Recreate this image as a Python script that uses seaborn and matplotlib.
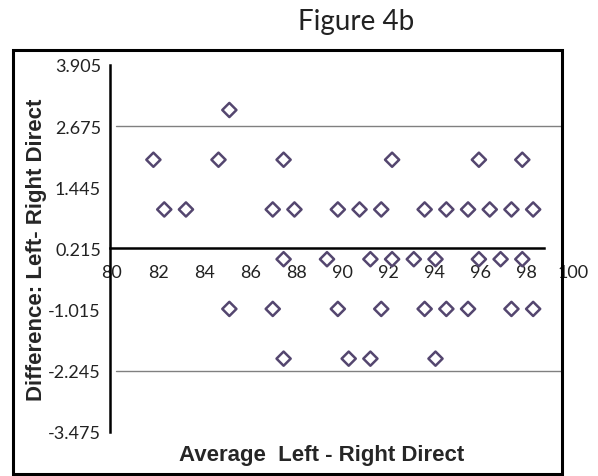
import matplotlib.pyplot as plt
import seaborn as sns
import pandas as pd
from matplotlib.patches import Rectangle
from matplotlib.transforms import ScaledTranslation

# Values (Bland-Altman style plot)
average = [85.5,
           82, 85, 88, 93, 97, 99,
           82.5, 83.5, 87.5, 88.5, 90.5, 91.5, 92.5, 94.5, 95.5, 96.5, 97.5, 98.5, 99.5,
           88, 90, 92, 93, 94, 95, 97, 98, 99,
           85.5, 87.5, 90.5, 92.5, 94.5, 95.5, 96.5, 98.5, 99.5,
           88, 91, 92, 95]
difference = [3,
              2, 2, 2, 2, 2, 2,
              1, 1, 1, 1, 1, 1, 1, 1, 1, 1, 1, 1, 1,
              0, 0, 0, 0, 0, 0, 0, 0, 0,
              -1, -1, -1, -1, -1, -1, -1, -1, -1,
              -2, -2, -2, -2]

x_ticks = list(range(80, 101, 2))
y_ticks = [3.905, 2.675, 1.445, 0.215, -1.015, -2.245, -3.475]
y_tick_labels = ["3.905", "2.675", "1.445", "0.215", "-1.015", "-2.245", "-3.475"]
mean_diff = 0.215
limits = [2.675, -2.245]

df = pd.DataFrame({"Average": average, "Difference": difference})

sns.set_style("white")
plt.rcParams["font.family"] = ["Lato", "DejaVu Sans"]

W, H = 598, 477
fig = plt.figure(figsize=(W / 100, H / 100), dpi=100)
ax = fig.add_axes([110 / W, 1 - 433 / H, 452 / W, 367 / H])

# limit lines
for lim in limits:
    ax.axhline(lim, xmin=0.013, xmax=1, color="#808080", lw=1, zorder=1)

sns.scatterplot(data=df, x="Average", y="Difference", marker="D", s=52,
                facecolor="none", edgecolor="#54466f", linewidth=1.8,
                ax=ax, zorder=3, legend=False)

ax.set_xlim(80, 80 + 452 / 21.7)
ax.set_ylim(-3.475, 3.905)

ax.spines["top"].set_visible(False)
ax.spines["right"].set_visible(False)
ax.spines["left"].set_bounds(-3.475, 3.905)
ax.spines["left"].set_linewidth(1.8)
ax.spines["left"].set_color("black")
ax.spines["bottom"].set_position(("data", mean_diff))
ax.spines["bottom"].set_bounds(80, 100)
ax.spines["bottom"].set_linewidth(1.8)
ax.spines["bottom"].set_color("black")

ax.set_xticks(x_ticks)
ax.set_xticklabels([str(t) for t in x_ticks])
ax.set_yticks(y_ticks)
ax.set_yticklabels(y_tick_labels)
ax.tick_params(axis="both", direction="out", length=4.5, width=1.5,
               color="black", labelsize=13, labelcolor="#222222")
ax.tick_params(axis="x", pad=7)
ax.tick_params(axis="y", pad=2)

# the labels drift right of their ticks in the original
for i, lab in enumerate(ax.get_xticklabels()):
    lab.set_transform(lab.get_transform() +
                      ScaledTranslation((2 + 2.7 * i) / 100, 0, fig.dpi_scale_trans))

ax.set_xlabel("Average  Left - Right Direct", fontsize=16, fontweight="bold",
              family="Liberation Sans")
ax.set_ylabel("Difference: Left- Right Direct", fontsize=16, fontweight="bold",
              family="Liberation Sans")
ax.xaxis.set_label_coords((322 - 110) / 452, (433 - 456) / 367)
ax.xaxis.label.set_verticalalignment("center")
ax.yaxis.set_label_coords((37 - 110) / 452, (433 - 250) / 367)
ax.yaxis.label.set_verticalalignment("center")

# outer frame around the chart
fig.patches.append(Rectangle((13 / W, 2 / H), 549 / W, 424 / H, transform=fig.transFigure,
                             fill=False, lw=2.2, edgecolor="black"))

fig.text(355.7 / W, 1 - 22 / H, "Figure 4b", ha="center", va="center", fontsize=20,
         color="#222222")

fig.savefig("out.png", dpi=100)
